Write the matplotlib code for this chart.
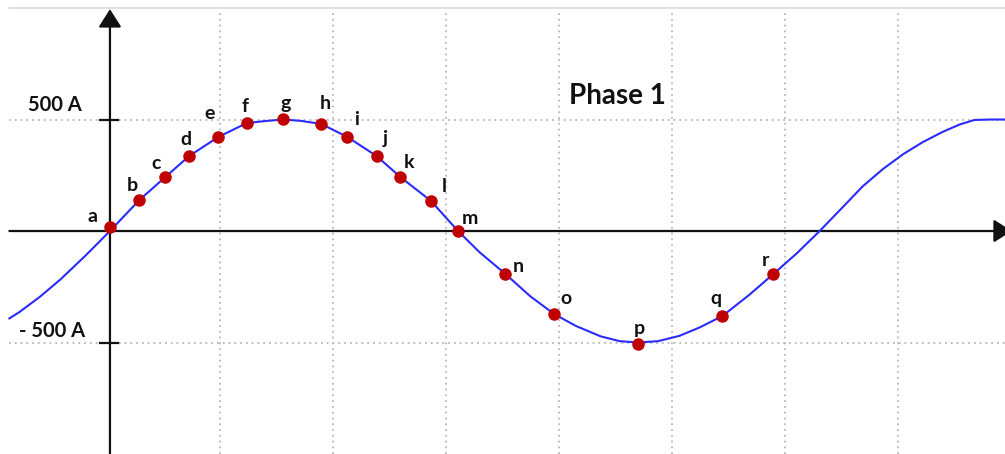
import matplotlib
matplotlib.use("Agg")
import matplotlib.pyplot as plt

# curve samples (x in grid cells, y in amps)
curve_x = [-0.89, -0.80, -0.62, -0.44, -0.22, 0.0, 0.26, 0.49, 0.70, 0.96, 1.21, 1.37,
           1.53, 1.69, 1.87, 2.10, 2.36, 2.57, 2.84, 3.08, 3.27, 3.50, 3.72, 3.93,
           4.12, 4.34, 4.51, 4.67, 4.85, 5.04, 5.22, 5.42, 5.66, 5.87, 6.08, 6.28,
           6.49, 6.66, 6.84, 7.02, 7.19, 7.37, 7.52, 7.65, 7.79, 7.92]
curve_y = [-392, -363, -295, -218, -112, 0, 139, 242, 336, 422, 484, 493,
           500, 494, 480, 422, 336, 242, 135, 0, -95, -193, -293, -372,
           -425, -472, -494, -500, -494, -470, -432, -381, -285, -193, -99, 0,
           110, 200, 278, 345, 398, 445, 478, 498, 500, 500]

# labelled points
point_names = list("abcdefghijklmnopqr")
point_x = [0.0, 0.26, 0.49, 0.70, 0.96, 1.21, 1.53, 1.87, 2.10, 2.36, 2.57, 2.84,
           3.08, 3.50, 3.93, 4.67, 5.42, 5.87]
point_y = [18, 139, 242, 336, 422, 484, 502, 480, 422, 336, 242, 135,
           0, -193, -372, -505, -381, -193]
# label offsets in pixels
label_dx = [-17, -7, -9, -3, -9, -2, 3, 4, 9, 8, 9, 13, 12, 13, 12, 2, -7, -8]
label_dy = [11, 15, 14, 17, 23, 17, 16, 20, 17, 18, 15, 14, 13, 8, 15, 15, 17, 14]

grid_x = [0.97, 1.97, 2.97, 3.97, 4.97, 5.97, 6.97]
grid_y = [500, -500]
tick_labels = ["500 A", "- 500 A"]
tick_dx = [-55, -58]
tick_dy = [15, 12]

fig = plt.figure(figsize=(10.05, 4.54), dpi=100)
ax = fig.add_axes([0, 0, 1, 1])
ax.set_xlim(-0.973, 7.92)
ax.set_ylim(-1000, 1036)
ax.axis("off")

font = ["Lato", "DejaVu Sans"]
grid_kw = dict(color="#b8b8b8", lw=1.3, linestyle=(0, (1, 2.2)), zorder=1)
for gx in grid_x:
    ax.plot([gx, gx], [-1000, 985], **grid_kw)
for gy in grid_y:
    ax.plot([-0.89, 7.92], [gy, gy], **grid_kw)
# top border
ax.plot([-0.89, 7.92], [1000, 1000], color="#dddddd", lw=1.2, zorder=1)

# axes with arrows
ax.annotate("", xy=(0, 995), xytext=(0, -1000), annotation_clip=False,
            arrowprops=dict(arrowstyle="-|>,head_length=1.1,head_width=0.7",
                            color="#111111", lw=1.6, shrinkA=0, shrinkB=0), zorder=3)
ax.annotate("", xy=(7.98, 0), xytext=(-0.89, 0), annotation_clip=False,
            arrowprops=dict(arrowstyle="-|>,head_length=1.1,head_width=0.7",
                            color="#111111", lw=1.6, shrinkA=0, shrinkB=0), zorder=3)
for gy, lab, dx, dy in zip(grid_y, tick_labels, tick_dx, tick_dy):
    ax.plot([-0.09, 0.07], [gy, gy], color="#111111", lw=1.6, zorder=3)
    ax.annotate(lab, xy=(0, gy), xytext=(dx, dy), textcoords="offset pixels",
                ha="center", va="center", fontsize=14.5, fontweight="bold",
                family=font, color="#111111")

ax.plot(curve_x, curve_y, color="#2b2bff", lw=1.5, zorder=4)
ax.plot(point_x, point_y, "o", color="#c00000", ms=8, mec="#c00000", zorder=5)
for name, px, py, dx, dy in zip(point_names, point_x, point_y, label_dx, label_dy):
    ax.annotate(name, xy=(px, py), xytext=(dx, dy), textcoords="offset pixels",
                ha="center", va="center", fontsize=14, fontweight="bold",
                family=font, color="#111111")

ax.text(4.49, 605, "Phase 1", ha="center", va="center", fontsize=20,
        fontweight="bold", family=font, color="#111111")

fig.savefig("out.png", dpi=100)
